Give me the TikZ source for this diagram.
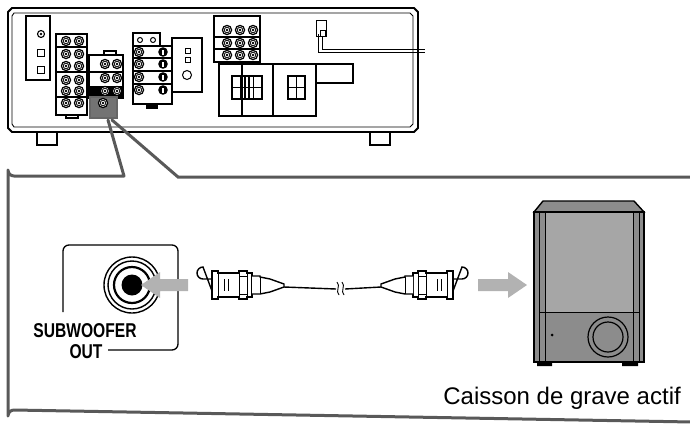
\documentclass[tikz,border=0pt]{standalone}
\usepackage{fontspec}
\setmainfont{Liberation Sans}
\begin{document}
\begin{tikzpicture}[x=1pt,y=-1pt,
  jk/.style={draw,line width=1.2pt},
  blk/.style={draw,line width=1.3pt,fill=white},
  gl/.style={draw=black!65,line width=3pt},
  garrow/.style={fill=black!30,draw=none}]
\useasboundingbox (0,0) rectangle (690,426);
\newcommand{\jack}[2]{\draw[jk,fill=white] (#1,#2) circle (4.6); \draw[line width=0.8pt] (#1,#2) circle (2.8); \fill (#1,#2) circle (1.4);}
% receiver
\draw[line width=1.8pt,fill=white] (12,8)--(414,8)--(418,12)--(418,128)--(414,132)--(12,132)--(8,128)--(8,12)--cycle;
\draw[line width=0.9pt] (14,13)--(410,13)--(413,16)--(413,124)--(410,127)--(14,127)--(12,124)--(12,16)--cycle;
\draw[line width=1.3pt] (37,132) rectangle (57,145);
\draw[line width=1.3pt] (370,132) rectangle (390,145);
% left panel
\draw[blk] (26,16) rectangle (50,80);
\draw[line width=1.1pt] (41,34) circle (3.5); \fill (41,34) circle (1.4);
\draw[line width=1.1pt] (37.5,49.5) rectangle (44.5,56.5);
\draw[line width=1.1pt] (37.5,66.5) rectangle (44.5,73.5);
% block 1
\draw[blk] (56,34) rectangle (87,115);
\draw[line width=1.2pt] (66,115) rectangle (78,118);
\foreach \y in {47,72,97} \draw[line width=1.2pt] (56,\y)--(87,\y);
\foreach \y in {41,54,66,80,91,103}{\jack{66}{\y}\jack{79}{\y}}
% block 2
\draw[blk] (89,55) rectangle (123,98);
\draw[blk] (104,51) rectangle (116,55);
\draw[line width=1.2pt] (89,72)--(123,72);
\fill (89,86) rectangle (123,97);
\foreach \y in {64,78,91}{\jack{105}{\y}\jack{117}{\y}}
\draw[line width=1.5pt,fill=black!55,draw=black!60] (90,97) rectangle (117,118);
\jack{103}{103}
% block 3
\draw[blk] (133,33) rectangle (160,46);
\draw[line width=1pt] (140,40) circle (2.5) (153,40) circle (2.5);
\draw[blk] (133,46) rectangle (172,104);
\fill (146,104) rectangle (158,109);
\foreach \y in {58,71,84} \draw[line width=1.2pt] (133,\y)--(172,\y);
\foreach \y in {52,64,77,90}{\jack{139}{\y}\fill (163,\y) circle (4.8); \fill[white] (162,\y-2.5) rectangle (164,\y+2.5);}
% block 4
\draw[blk] (172,38) rectangle (202,92);
\draw[line width=1pt] (185.5,48.5) rectangle (190.5,53.5) (185.5,57.5) rectangle (190.5,62.5);
\draw[line width=1pt] (187,75) circle (4.5);
% block 5
\draw[blk] (214,16) rectangle (260,62);
\foreach \y in {37,49} \draw[line width=1.2pt] (214,\y)--(260,\y);
\foreach \y in {30,43,55}{\jack{227}{\y}\jack{240}{\y}\jack{253}{\y}}
% speaker terminals
\draw[line width=2.4pt,fill=white] (219,64) rectangle (316,116);
\draw[line width=2.4pt] (316,64) rectangle (353,83);
\draw[line width=1.4pt] (242,64)--(242,116) (273,64)--(273,116);
\foreach \x/\w in {232/2,245/2,288/2}{
  \draw[line width=1.5pt] (\x,76) rectangle (\x+\w*8.5,99);
  \draw[line width=1.5pt] (\x,87.5)--(\x+\w*8.5,87.5) (\x+8.5,76)--(\x+8.5,99);}
% antenna
\draw[line width=1pt,fill=white] (316,20) rectangle (326,36);
\draw[line width=1pt] (320,30) rectangle (325,36);
\draw[line width=0.9pt] (318,34)--(318,52)--(425,52) (322,36)--(322,49)--(425,49);
% callout lines
\draw[gl,line cap=round,line join=round] (108,120)--(124,176)--(14,176) arc[start angle=90,end angle=180,radius=6]--(8,416) arc[start angle=180,end angle=270,radius=6]--(692,422);
\draw[gl,line cap=round] (112,120)--(178,177)--(692,177);
% jack panel
\draw[line width=1.3pt] (63,312)--(63,251) arc[start angle=180,end angle=270,radius=6]--(172,245) arc[start angle=-90,end angle=0,radius=6]--(178,344) arc[start angle=0,end angle=90,radius=6]--(108,350);
\node[font=\bfseries\fontsize{20}{20}\selectfont,inner sep=0,xscale=0.78,transform shape] (sub) at (85,331) {SUBWOOFER};
\node[font=\bfseries\fontsize{20}{20}\selectfont,inner sep=0,xscale=0.78,transform shape] (out) at (86,352) {OUT};
\draw[line width=1.4pt] (132,285) circle (28);
\draw[line width=1.4pt] (132,285) circle (24);
\draw[line width=2.2pt] (132,285) circle (18);
\fill (132,285) circle (10.5);
\fill[garrow] (188,279)--(160,279)--(160,272)--(141,285)--(160,298)--(160,291)--(188,291)--cycle;
% cable
\newcommand{\plug}{%
  \draw[line width=1.4pt,fill=white] (0,-6)--(-9,-6) arc[start angle=90,end angle=270,radius=6]--(0,6);
  \draw[line width=1.4pt,fill=white] (0,-14)--(6,-14)--(6,-12)--(27,-12)--(27,-14)--(35,-14)--(35,-12)--(40,-12)--(40,12)--(35,12)--(35,14)--(27,14)--(27,12)--(6,12)--(6,14)--(0,14)--cycle;
  \draw[line width=1.4pt,fill=white] (40,-9)--(48,-9)--(48,-8)--(58,-6)--(72,-1)--(72,2)--(58,7)--(48,9)--(40,9);
  \draw[line width=0.9pt] (6,-12)--(6,12) (27,-12)--(27,12) (35,-12)--(35,12) (12,-6)--(12,6) (16,-6)--(16,6) (48,-8)--(48,9);
  \draw[line width=0.9pt] (27,-9)--(35,-9) (27,9)--(35,9);}
\begin{scope}[shift={(212,285)}]\plug\end{scope}
\begin{scope}[shift={(453,285)},xscale=-1]\plug\end{scope}
\draw[line width=1.4pt] (284,287)--(336,289) (345,289)--(381,287);
\draw[line width=0.9pt] (337,282) .. controls (341,286) and (335,291) .. (339,295);
\draw[line width=0.9pt] (342,282) .. controls (346,286) and (340,291) .. (344,295);
\fill[garrow] (478,279)--(508,279)--(508,272)--(527,285)--(508,298)--(508,291)--(478,291)--cycle;
% subwoofer
\draw[line width=1.4pt,fill=black!45] (534,212)--(543,201)--(634,201)--(644,212)--cycle;
\draw[line width=2pt,fill=black!45] (534,212) rectangle (644,362);
\draw[line width=1pt,fill=black!35] (545,212) rectangle (633,312);
\draw[line width=1pt] (539,212)--(539,362) (639,212)--(639,362) (545,312)--(545,362) (633,312)--(633,362) (539,312)--(639,312);
\draw[line width=1.2pt] (608,337) circle (20) (608,337) circle (15);
\fill (552,335) circle (1.5);
\fill (537,362) rectangle (552,366) (622,362) rectangle (638,366);
\node[font=\fontsize{24}{24}\selectfont,anchor=east,inner sep=0] (lbl) at (681,398) {Caisson de grave actif};
\end{tikzpicture}
\end{document}
